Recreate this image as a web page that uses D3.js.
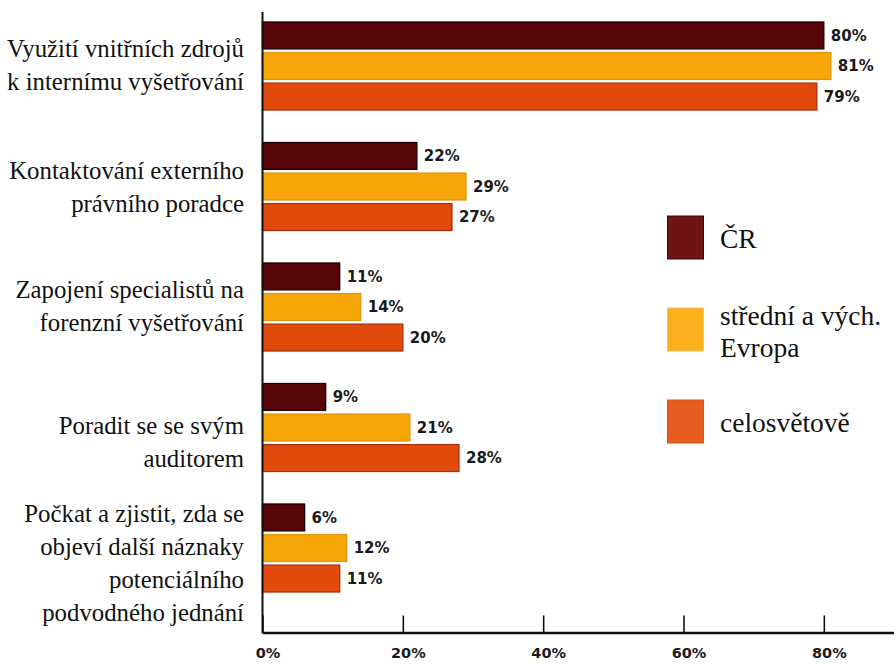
<!DOCTYPE html>
<html>
<head>
<meta charset="utf-8">
<script src="https://cdn.jsdelivr.net/npm/d3@7"></script>
<style>
  html, body { margin: 0; padding: 0; background: #fff; }
  svg { display: block; }
</style>
</head>
<body>
<svg id="chart" width="894" height="664"></svg>
<script>
// ---------- data ----------
const categories = [
  "Využití vnitřních zdrojů\nk internímu vyšetřování",
  "Kontaktování externího\nprávního poradce",
  "Zapojení specialistů na\nforenzní vyšetřování",
  "Poradit se se svým\nauditorem",
  "Počkat a zjistit, zda se\nobjeví další náznaky\npotenciálního\npodvodného jednání"
];
const seriesNames = ["ČR", "střední a vých.\nEvropa", "celosvětově"];
const valuesCR = [80, 22, 11, 9, 6];
const valuesCEE = [81, 29, 14, 21, 12];
const valuesGlobal = [79, 27, 20, 28, 11];
const xTicks = [0, 20, 40, 60, 80];

// ---------- layout ----------
const barFill = ["#570508", "#f7a608", "#e24a0c"];
const barStroke = ["#1e0000", "#e0960c", "#a8300a"];
const legendFill = ["#6c1416", "#f9b01c", "#e85d1f"];
const legendStroke = ["#3c0808", "#f3c25a", "#d9541a"];
const labelShift = [7, 9, 7, 23, 23];
const serif = "'Liberation Serif', 'DejaVu Serif', serif";

const svg = d3.select("#chart");
const seriesValues = [valuesCR, valuesCEE, valuesGlobal];

const x = d3.scaleLinear().domain([0, 90]).range([262.5, 894]);
const y = d3.scaleBand().domain(categories).range([22, 22 + 5 * 120.5]).padding(0);
const ySub = d3.scaleBand().domain(d3.range(3)).range([0, 88]).paddingInner(0.12);

// bars
const groups = svg.append("g").selectAll("g")
  .data(categories)
  .join("g")
  .attr("transform", d => `translate(0,${y(d)})`);

groups.each(function(cat, ci) {
  const g = d3.select(this);
  seriesValues.forEach((vals, si) => {
    const v = vals[ci];
    g.append("rect")
      .attr("x", x(0))
      .attr("y", ySub(si))
      .attr("width", x(v) - x(0))
      .attr("height", ySub.bandwidth())
      .attr("fill", barFill[si])
      .attr("stroke", barStroke[si])
      .attr("stroke-width", 1.3);
    g.append("text")
      .attr("x", x(v) + 7)
      .attr("y", ySub(si) + ySub.bandwidth() / 2)
      .attr("dy", "0.36em")
      .attr("font-family", "DejaVu Sans")
      .attr("font-weight", "bold")
      .attr("font-size", 15)
      .attr("fill", "#1a1a1a")
      .text(v + "%");
  });
  // category label (baselines)
  const lines = cat.split("\n");
  const lh = 33;
  const mid = 44 + labelShift[ci];
  const t = g.append("text")
    .attr("text-anchor", "end")
    .attr("font-family", serif)
    .attr("font-size", 24.8)
    .attr("fill", "#111");
  lines.forEach((ln, li) => {
    t.append("tspan")
      .attr("x", 244)
      .attr("y", mid + (li - (lines.length - 1) / 2) * lh)
      .text(ln);
  });
});

// x axis
const xAxis = d3.axisBottom(x)
  .tickValues(xTicks)
  .tickSize(-17)
  .tickSizeOuter(0)
  .tickPadding(15)
  .tickFormat(d => d + "%");
const ax = svg.append("g")
  .attr("transform", "translate(0,632.5)")
  .call(xAxis);
ax.select(".domain").attr("stroke", "#111").attr("stroke-width", 2.5);
ax.selectAll(".tick line").attr("stroke", "#111").attr("stroke-width", 1.6);
ax.selectAll(".tick text")
  .attr("dx", 5)
  .attr("font-family", "DejaVu Sans")
  .attr("font-weight", "bold")
  .attr("font-size", 14.5)
  .attr("fill", "#1a1a1a");

// y axis line
svg.append("line")
  .attr("x1", x(0)).attr("x2", x(0))
  .attr("y1", 12).attr("y2", 633.5)
  .attr("stroke", "#111").attr("stroke-width", 2);

// legend
const legend = svg.append("g");
seriesNames.forEach((name, i) => {
  const top = 216 + i * 92;
  legend.append("rect")
    .attr("x", 667.5).attr("y", top)
    .attr("width", 36).attr("height", 43)
    .attr("fill", legendFill[i])
    .attr("stroke", legendStroke[i])
    .attr("stroke-width", 1);
  const lines = name.split("\n");
  const t = legend.append("text")
    .attr("font-family", serif)
    .attr("font-size", 27.5)
    .attr("fill", "#111");
  const base = lines.length === 1 ? top + 32 : top + 17;
  lines.forEach((ln, li) => {
    t.append("tspan").attr("x", 720).attr("y", base + li * 32).text(ln);
  });
});
</script>
</body>
</html>
